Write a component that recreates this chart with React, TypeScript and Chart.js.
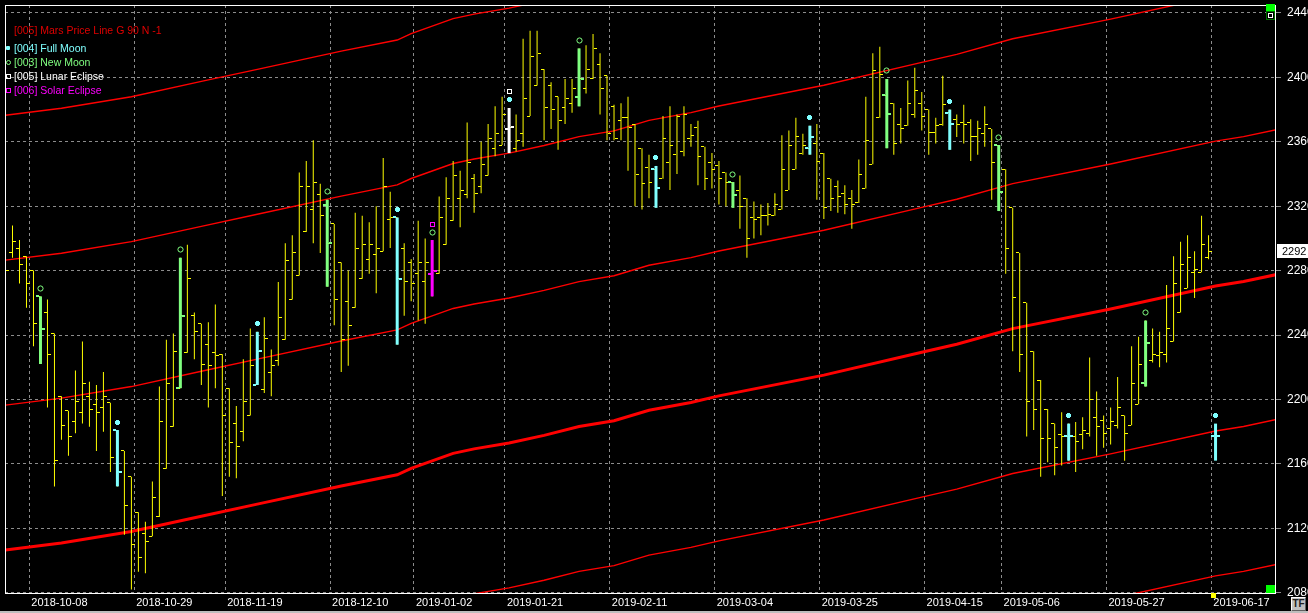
import React, { useEffect, useRef } from 'react';
import { Chart, registerables } from 'chart.js';

Chart.register(...registerables);

// ---------------- data ----------------
// daily OHLC bars, index 0 .. 173 (173 is a projected full-moon marker)
const opens = [
  2301, 2291, 2294, 2289, 2280, 2264, 2254, 2241, 2202, 2193,
  2186, 2192, 2202, 2197, 2195, 2198, 2181, 2168, 2152, 2130,
  2117, 2115, 2127, 2157, 2183, 2207, 2229, 2252, 2247, 2234,
  2229, 2228, 2207, 2185, 2180, 2190, 2209, 2206, 2217, 2224,
  2237, 2262, 2277, 2304, 2318, 2327, 2321, 2309, 2285, 2261,
  2257, 2275, 2287, 2290, 2292, 2312, 2313, 2294, 2285, 2278,
  2273, 2278, 2278, 2296, 2311, 2325, 2327, 2337, 2332, 2339,
  2356, 2358, 2368, 2356, 2365, 2376, 2395, 2405, 2395, 2388,
  2381, 2384, 2388, 2393, 2399, 2408, 2401, 2382, 2373, 2375,
  2371, 2356, 2344, 2343, 2337, 2347, 2352, 2354, 2362, 2369,
  2357, 2347, 2345, 2341, 2335, 2330, 2325, 2313, 2313, 2314,
  2314, 2318, 2330, 2343, 2353, 2356, 2359, 2353, 2337, 2332,
  2328, 2325, 2322, 2331, 2346, 2375, 2389, 2384, 2371, 2370,
  2377, 2384, 2380, 2366, 2371, 2378, 2374, 2372, 2372, 2363,
  2365, 2368, 2358, 2343, 2319, 2291, 2260, 2230, 2212, 2194,
  2185, 2178, 2177, 2177, 2178, 2179, 2189, 2187, 2182, 2184,
  2190, 2184, 2197, 2210, 2224, 2227, 2228, 2236, 2254, 2269,
  2279, 2279, 2288, 2177,
];
const highs = [
  2303, 2308, 2299, 2289, 2280, 2264, 2262, 2241, 2202, 2193,
  2218, 2236, 2211, 2209, 2217, 2198, 2181, 2168, 2152, 2130,
  2124, 2149, 2208, 2237, 2241, 2288, 2296, 2254, 2247, 2248,
  2259, 2228, 2207, 2196, 2225, 2244, 2242, 2251, 2231, 2273,
  2297, 2302, 2341, 2348, 2361, 2334, 2324, 2309, 2285, 2280,
  2316, 2314, 2310, 2320, 2350, 2329, 2313, 2297, 2287, 2311,
  2300, 2299, 2326, 2338, 2348, 2342, 2372, 2340, 2360, 2371,
  2382, 2388, 2381, 2377, 2424, 2429, 2429, 2405, 2397, 2388,
  2399, 2399, 2418, 2420, 2427, 2415, 2401, 2383, 2384, 2388,
  2371, 2356, 2352, 2345, 2376, 2382, 2377, 2382, 2371, 2373,
  2357, 2353, 2348, 2341, 2335, 2339, 2325, 2323, 2321, 2322,
  2328, 2364, 2367, 2375, 2365, 2370, 2371, 2353, 2337, 2336,
  2333, 2330, 2349, 2388, 2415, 2419, 2399, 2384, 2381, 2398,
  2406, 2391, 2380, 2375, 2401, 2380, 2377, 2383, 2374, 2373,
  2382, 2368, 2358, 2343, 2319, 2291, 2260, 2230, 2212, 2194,
  2185, 2192, 2185, 2186, 2189, 2226, 2205, 2190, 2195, 2214,
  2190, 2233, 2239, 2249, 2244, 2242, 2271, 2289, 2298, 2302,
  2292, 2314, 2302, 2185,
];
const lows = [
  2265, 2288, 2272, 2257, 2233, 2222, 2195, 2146, 2175, 2165,
  2179, 2185, 2183, 2168, 2180, 2155, 2146, 2116, 2082, 2093,
  2092, 2115, 2127, 2157, 2183, 2207, 2229, 2225, 2209, 2195,
  2207, 2140, 2152, 2151, 2174, 2190, 2209, 2204, 2202, 2221,
  2237, 2262, 2277, 2304, 2297, 2291, 2270, 2246, 2217, 2221,
  2257, 2275, 2278, 2266, 2292, 2294, 2234, 2252, 2261, 2249,
  2247, 2264, 2278, 2296, 2311, 2307, 2325, 2316, 2328, 2339,
  2351, 2358, 2353, 2354, 2357, 2376, 2395, 2361, 2368, 2355,
  2371, 2378, 2382, 2390, 2399, 2377, 2361, 2361, 2361, 2342,
  2320, 2318, 2325, 2319, 2337, 2330, 2340, 2351, 2357, 2333,
  2330, 2331, 2321, 2320, 2319, 2306, 2288, 2300, 2302, 2308,
  2314, 2318, 2330, 2343, 2352, 2352, 2324, 2312, 2317, 2316,
  2315, 2306, 2322, 2331, 2346, 2375, 2356, 2352, 2359, 2370,
  2375, 2367, 2352, 2359, 2370, 2355, 2363, 2359, 2348, 2352,
  2357, 2324, 2317, 2278, 2230, 2217, 2177, 2181, 2152, 2161,
  2153, 2159, 2162, 2155, 2169, 2177, 2165, 2170, 2172, 2182,
  2162, 2184, 2197, 2208, 2223, 2220, 2223, 2236, 2254, 2269,
  2263, 2279, 2287, 2162,
];
const closes = [
  2280, 2298, 2284, 2272, 2247, 2244, 2228, 2162, 2184, 2177,
  2199, 2210, 2194, 2192, 2202, 2164, 2155, 2134, 2110, 2102,
  2112, 2139, 2186, 2210, 2230, 2252, 2275, 2242, 2222, 2221,
  2227, 2190, 2173, 2171, 2199, 2221, 2230, 2238, 2221, 2251,
  2286, 2291, 2332, 2332, 2335, 2314, 2297, 2262, 2237, 2246,
  2294, 2296, 2296, 2294, 2332, 2313, 2275, 2273, 2272, 2285,
  2285, 2280, 2313, 2325, 2339, 2330, 2347, 2328, 2346, 2362,
  2365, 2377, 2369, 2361, 2387, 2413, 2415, 2381, 2380, 2373,
  2387, 2393, 2399, 2405, 2418, 2393, 2365, 2362, 2375, 2369,
  2340, 2334, 2335, 2331, 2362, 2358, 2376, 2377, 2364, 2351,
  2337, 2343, 2337, 2335, 2327, 2320, 2300, 2312, 2314, 2315,
  2321, 2343, 2358, 2363, 2358, 2363, 2348, 2319, 2325, 2326,
  2321, 2321, 2340, 2361, 2404, 2402, 2377, 2359, 2368, 2384,
  2392, 2376, 2366, 2370, 2383, 2371, 2371, 2371, 2363, 2368,
  2371, 2347, 2329, 2294, 2263, 2228, 2199, 2194, 2176, 2176,
  2170, 2177, 2177, 2174, 2181, 2200, 2183, 2179, 2186, 2195,
  2179, 2210, 2222, 2235, 2228, 2229, 2244, 2272, 2284, 2288,
  2281, 2296, 2292, 2177,
];
const projectedBars = [173];

const fullMoonIdx = [16, 36, 56, 72, 93, 115, 135, 152, 173];
const newMoonIdx = [5, 25, 46, 61, 82, 104, 126, 142, 163];
const lunarEclipseIdx = [72];
const solarEclipseIdx = [61];

const xTickIdx = [3, 18, 31, 46, 58, 71, 86, 101, 116, 131, 142, 157, 172];
const xTickLabels = [
  '2018-10-08', '2018-10-29', '2018-11-19', '2018-12-10', '2019-01-02', '2019-01-21',
  '2019-02-11', '2019-03-04', '2019-03-25', '2019-04-15', '2019-05-06', '2019-05-27', '2019-06-17',
];
const yTicks = [2080, 2120, 2160, 2200, 2240, 2280, 2320, 2360, 2400, 2440];
const lastPrice = 2292;

// Mars price line (G 90) harmonics, sampled at bar indices
const marsIdx = [0, 8, 18, 28, 36, 48, 56, 58, 64, 67, 72, 77, 82, 87, 92, 98, 102, 117, 131, 136, 144, 158, 173, 177, 182];
const marsLine1 = [2376.5, 2380.8, 2388, 2397.5, 2405, 2416.3, 2423.2, 2427.2, 2436.5, 2439.3, 2443, 2447.7, 2453.2, 2456.8, 2463.3, 2468.1, 2472.2, 2485.1, 2499.3, 2504.3, 2514, 2526.2, 2540.4, 2543.2, 2547.8];
const marsLine2 = [2286.5, 2290.8, 2298, 2307.5, 2315, 2326.3, 2333.2, 2337.2, 2346.5, 2349.3, 2353, 2357.7, 2363.2, 2366.8, 2373.3, 2378.1, 2382.2, 2395.1, 2409.3, 2414.3, 2424, 2436.2, 2450.4, 2453.2, 2457.8];
const marsLine3 = [2196.5, 2200.8, 2208, 2217.5, 2225, 2236.3, 2243.2, 2247.2, 2256.5, 2259.3, 2263, 2267.7, 2273.2, 2276.8, 2283.3, 2288.1, 2292.2, 2305.1, 2319.3, 2324.3, 2334, 2346.2, 2360.4, 2363.2, 2367.8];
const marsLine4 = [2106.5, 2110.8, 2118, 2127.5, 2135, 2146.3, 2153.2, 2157.2, 2166.5, 2169.3, 2173, 2177.7, 2183.2, 2186.8, 2193.3, 2198.1, 2202.2, 2215.1, 2229.3, 2234.3, 2244, 2256.2, 2270.4, 2273.2, 2277.8];
const marsLine5 = [2016.5, 2020.8, 2028, 2037.5, 2045, 2056.3, 2063.2, 2067.2, 2076.5, 2079.3, 2083, 2087.7, 2093.2, 2096.8, 2103.3, 2108.1, 2112.2, 2125.1, 2139.3, 2144.3, 2154, 2166.2, 2180.4, 2183.2, 2187.8];
const marsLine6 = [1926.5, 1930.8, 1938, 1947.5, 1955, 1966.3, 1973.2, 1977.2, 1986.5, 1989.3, 1993, 1997.7, 2003.2, 2006.8, 2013.3, 2018.1, 2022.2, 2035.1, 2049.3, 2054.3, 2064, 2076.2, 2090.4, 2093.2, 2097.8];

// ---------------- styles ----------------
const W = 1308;
const H = 613;
const YELLOW = '#ffff00';
const CYAN = '#80ffff';
const GREEN = '#80ff80';
const WHITE = '#ffffff';
const MAGENTA = '#ff00ff';
const RED = '#ff0000';
const GRID = '#8c8c8c';
const FONT = '"Liberation Sans", Arial, sans-serif';
const X_MIN = -0.5 / 7;
const X_MAX = X_MIN + 1271 / 7;

function tickImage(color: string, w: number, h: number, from: number, to: number) {
  const c = document.createElement('canvas');
  c.width = w;
  c.height = h;
  const g = c.getContext('2d')!;
  g.fillStyle = color;
  g.fillRect(from, 0, to - from, h);
  return c;
}

function markerImage(kind: string, color: string, lift: number) {
  const w = 7;
  const h = 2 * lift + 7;
  const c = document.createElement('canvas');
  c.width = w;
  c.height = h;
  const g = c.getContext('2d')!;
  g.fillStyle = color;
  g.strokeStyle = color;
  g.lineWidth = 1;
  if (kind === 'dot') {
    g.fillRect(2, 1, 3, 5);
    g.fillRect(1, 2, 5, 3);
  } else if (kind === 'circle') {
    g.beginPath();
    g.arc(3.5, 3.5, 2.6, 0, Math.PI * 2);
    g.stroke();
  } else {
    g.strokeRect(1.5, 1.5, 4, 4);
  }
  return c;
}

const notIn = (list: number[]) => (i: number) => !list.includes(i);
const allIdx = opens.map((_, i) => i);

function hlData(idx: number[]) {
  return idx.map((i) => ({ x: i, y: [lows[i], highs[i]] }));
}
function ptData(idx: number[], arr: number[]) {
  return idx.map((i) => ({ x: i, y: arr[i] }));
}

function buildConfig(): any {
  const yellowIdx = allIdx.filter(notIn(projectedBars));
  const fullBars = fullMoonIdx.filter(notIn(lunarEclipseIdx));
  const newBars = newMoonIdx.filter(notIn(solarEclipseIdx));

  const lines = [marsLine1, marsLine2, marsLine3, marsLine4, marsLine5, marsLine6].map((arr, li) => ({
    type: 'line',
    data: marsIdx.map((x, i) => ({ x, y: arr[i] })),
    borderColor: RED,
    borderWidth: li === 3 ? 3 : 1.4,
    pointRadius: 0,
    tension: 0,
    clip: 0,
    order: 50,
  }));

  const barSet = (idx: number[], color: string, thick: number, order: number) => ({
    type: 'bar',
    data: hlData(idx),
    backgroundColor: color,
    borderWidth: 0,
    barThickness: thick,
    grouped: false,
    inflateAmount: 0,
    clip: 0,
    order,
  });

  const tickSet = (idx: number[], arr: number[], img: HTMLCanvasElement, order: number) => ({
    type: 'scatter',
    data: ptData(idx, arr),
    pointStyle: img,
    pointRadius: 3,
    clip: 0,
    order,
  });

  const moonGroup = (idx: number[], color: string) => [
    barSet(idx, color, 3, 30),
    tickSet(idx, opens, tickImage(color, 9, 2, 0, 3), 29),
    tickSet(idx, closes, tickImage(color, 9, 2, 6, 9), 29),
  ];

  const datasets: any[] = [
    ...lines,
    barSet(yellowIdx, YELLOW, 1, 40),
    tickSet(yellowIdx, opens, tickImage(YELLOW, 7, 1, 0, 3), 39),
    tickSet(yellowIdx, closes, tickImage(YELLOW, 7, 1, 4, 7), 39),
    ...moonGroup(fullBars, CYAN),
    ...moonGroup(newBars, GREEN),
    ...moonGroup(lunarEclipseIdx, WHITE),
    ...moonGroup(solarEclipseIdx, MAGENTA),
    tickSet(fullMoonIdx, highs, markerImage('dot', CYAN, 8), 10),
    tickSet(newMoonIdx, highs, markerImage('circle', GREEN, 8), 10),
    tickSet(lunarEclipseIdx, highs, markerImage('square', WHITE, 16), 10),
    tickSet(solarEclipseIdx, highs, markerImage('square', MAGENTA, 16), 10),
  ];

  const framePlugin = {
    id: 'frame',
    beforeDatasetsDraw(chart: any) {
      chart.ctx.imageSmoothingEnabled = false;
    },
    afterDraw(chart: any) {
      const { ctx, chartArea: a, scales } = chart;
      ctx.save();
      ctx.strokeStyle = '#ffffff';
      ctx.lineWidth = 1;
      ctx.strokeRect(a.left + 0.5, a.top + 0.5, a.right - a.left, a.bottom - a.top);
      const y = Math.round(scales.y.getPixelForValue(lastPrice));
      ctx.fillStyle = '#ffffff';
      ctx.fillRect(a.right + 2, y - 7, 40, 14);
      ctx.fillStyle = '#000000';
      ctx.font = '11px ' + FONT;
      ctx.textBaseline = 'middle';
      ctx.textAlign = 'left';
      ctx.fillText(String(lastPrice), a.right + 7, y + 0.5);
      ctx.restore();
    },
  };

  return {
    type: 'scatter',
    data: { datasets },
    plugins: [framePlugin],
    options: {
      responsive: false,
      animation: false,
      devicePixelRatio: 1,
      events: [],
      layout: { padding: { left: 4, top: 3, right: 0, bottom: 0 } },
      plugins: { legend: { display: false }, tooltip: { enabled: false } },
      scales: {
        x: {
          type: 'linear',
          min: X_MIN,
          max: X_MAX,
          offset: false,
          afterBuildTicks: (s: any) => {
            s.ticks = xTickIdx.map((v) => ({ value: v + 0.4 }));
          },
          afterFit: (s: any) => {
            s.height = 20;
            s.paddingLeft = 0;
            s.paddingRight = 0;
          },
          grid: { color: GRID, lineWidth: 1, drawTicks: false, offset: false },
          border: { display: false, dash: [3, 3] },
          ticks: {
            autoSkip: false,
            maxRotation: 0,
            minRotation: 0,
            align: 'start',
            labelOffset: 2,
            padding: 3,
            color: '#ffffff',
            font: { family: FONT, size: 11 },
            callback: (_v: any, i: number) => xTickLabels[i],
          },
        },
        y: {
          type: 'linear',
          position: 'right',
          min: 2079.8,
          max: 2444.95,
          afterBuildTicks: (s: any) => {
            s.ticks = yTicks.map((v) => ({ value: v }));
          },
          afterFit: (s: any) => {
            s.width = 33;
            s.paddingTop = 0;
            s.paddingBottom = 0;
          },
          grid: {
            color: GRID,
            lineWidth: 1,
            drawTicks: true,
            tickLength: 6,
            tickColor: GRID,
            tickBorderDash: [],
          },
          border: { display: false, dash: [3, 3] },
          ticks: {
            padding: 6,
            color: '#ffffff',
            font: { family: FONT, size: 12 },
            callback: (v: any) => String(v),
          },
        },
      },
    },
  };
}

const legendFont = '10.5px ' + FONT;

function LegendRow(props: { top: number; color: string; text: string }) {
  return (
    <div style={{ position: 'absolute', left: 14, top: props.top, color: props.color, font: legendFont, lineHeight: '12px', whiteSpace: 'nowrap' }}>
      {props.text}
    </div>
  );
}

export default function App() {
  const ref = useRef<HTMLCanvasElement>(null);
  useEffect(() => {
    const canvas = ref.current;
    if (!canvas) return;
    const chart = new Chart(canvas, buildConfig());
    return () => chart.destroy();
  }, []);

  return (
    <div style={{ position: 'fixed', left: 0, top: 0, width: W, height: H, background: '#000', overflow: 'hidden' }}>
      <canvas ref={ref} width={W} height={H} style={{ position: 'absolute', left: 0, top: 0, width: W, height: H }} />
      <LegendRow top={24} color="#e00000" text="[005] Mars Price Line G 90 N -1" />
      <div style={{ position: 'absolute', left: 6, top: 46, width: 4, height: 4, background: CYAN, borderRadius: 1 }} />
      <LegendRow top={42} color={CYAN} text="[004] Full Moon" />
      <div style={{ position: 'absolute', left: 6, top: 60, width: 3, height: 3, border: `1px solid ${GREEN}`, borderRadius: '50%' }} />
      <LegendRow top={56} color={GREEN} text="[003] New Moon" />
      <div style={{ position: 'absolute', left: 6, top: 74, width: 3, height: 3, border: `1px solid ${WHITE}` }} />
      <LegendRow top={70} color={WHITE} text="[005] Lunar Eclipse" />
      <div style={{ position: 'absolute', left: 6, top: 88, width: 3, height: 3, border: `1px solid ${MAGENTA}` }} />
      <LegendRow top={84} color={MAGENTA} text="[006] Solar Eclipse" />

      <div style={{ position: 'absolute', left: 1266, top: 4, width: 9, height: 7, background: '#00ff00' }} />
      <div style={{ position: 'absolute', left: 1266, top: 11, width: 7, height: 7, border: '1px solid #007000', background: '#000' }}>
        <div style={{ position: 'absolute', left: 1, top: 1, width: 3, height: 3, border: '1px solid #ffffff' }} />
      </div>
      <div style={{ position: 'absolute', left: 1266, top: 585, width: 9, height: 8, background: '#00ff00' }} />
      <div style={{ position: 'absolute', left: 1211, top: 593, width: 5, height: 5, background: '#ffff00' }} />
      <div style={{ position: 'absolute', left: 0, top: 611, width: W, height: 2, background: '#bdbdbd' }} />
      <div style={{ position: 'absolute', left: 1291, top: 597, width: 15, height: 14, background: '#c0c0c0', borderTop: '1px solid #ffffff', borderLeft: '1px solid #ffffff', borderRight: '1px solid #606060', borderBottom: '1px solid #606060', boxSizing: 'border-box', color: '#202020', font: 'bold 10px ' + FONT, lineHeight: '12px', textAlign: 'center' }}>
        TF
      </div>
    </div>
  );
}
